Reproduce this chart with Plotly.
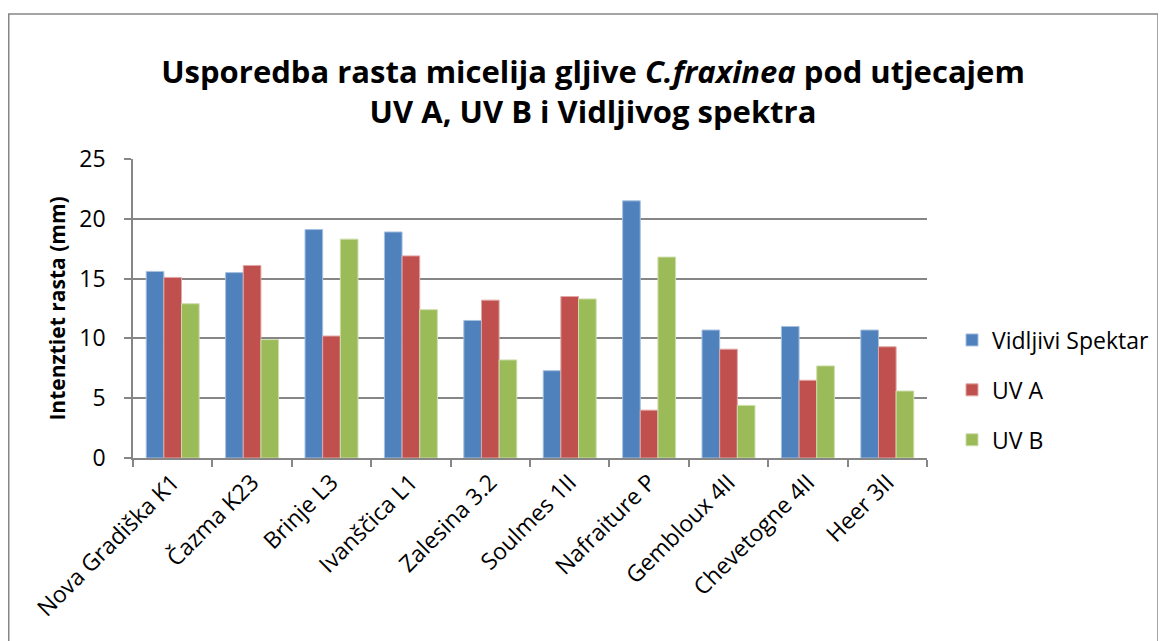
import plotly.graph_objects as go

categories = ["Nova Gradiška K1", "Čazma K23", "Brinje L3", "Ivanščica L1", "Zalesina 3.2",
              "Soulmes 1II", "Nafraiture P", "Gembloux 4II", "Chevetogne 4II", "Heer 3II"]
vidljivi = [15.6, 15.5, 19.1, 18.9, 11.5, 7.3, 21.5, 10.7, 11.0, 10.7]
uva = [15.1, 16.1, 10.2, 16.9, 13.2, 13.5, 4.0, 9.1, 6.5, 9.3]
uvb = [12.9, 9.9, 18.3, 12.4, 8.2, 13.3, 16.8, 4.4, 7.7, 5.6]

series = [("Vidljivi Spektar", vidljivi, "#4F81BD", "#A7C0DE"),
          ("UV A", uva, "#C0504D", "#E0A8A6"),
          ("UV B", uvb, "#9BBB59", "#CDDDAC")]

FONT = "Open Sans"
GRID = "#868686"

fig = go.Figure()
for i, (name, vals, col, edge) in enumerate(series):
    fig.add_trace(go.Bar(x=categories, y=vals, name=name, legendgroup=str(i),
                         marker=dict(color=col, line=dict(color=edge, width=1))))

# page has an 8px body margin, so figure coords = page coords - 8
OFF = 8
W, H = 1158, 633
L, T = 133 - OFF, 159 - OFF
R = W - (927 - OFF)
B = H - (458 - OFF)
pw, ph = W - L - R, H - T - B

def px(x):
    return (x - OFF - L) / pw

def py(y):
    return (H - B - (y - OFF)) / ph

fig.update_layout(
    width=W, height=H,
    margin=dict(l=L, r=R, t=T, b=B),
    paper_bgcolor="white", plot_bgcolor="white",
    font=dict(family=FONT, size=23, color="black"),
    barmode="group", bargap=0.333, bargroupgap=0,
    title=dict(text="<b>Usporedba rasta micelija gljive <i>C.fraxinea</i> pod utjecajem<br>UV A, UV B i Vidljivog spektra</b>",
               x=(593 - OFF) / W, xanchor="center", y=1 - (83 - OFF) / H, yanchor="middle",
               font=dict(family=FONT, size=31, color="black")),
    legend=dict(x=px(952), y=py(390), xanchor="left", yanchor="middle",
                font=dict(size=23), tracegroupgap=17, itemwidth=30),
    xaxis=dict(showline=True, linecolor=GRID, linewidth=1.5, ticks="outside",
               tickson="boundaries", ticklen=7, tickcolor=GRID, tickwidth=1.5,
               tickangle=-45, tickfont=dict(size=23)),
    yaxis=dict(range=[0, 25], dtick=5, showline=True, linecolor=GRID, linewidth=1.5,
               ticks="outside", ticklen=7, tickcolor=GRID, tickwidth=1.5,
               showgrid=True, gridcolor=GRID, gridwidth=1.5, zeroline=False,
               tickfont=dict(size=23), ticklabelstandoff=14,
               title=dict(text="<b>Intenztiet rasta (mm)</b>", font=dict(size=21), standoff=8)),
    shapes=[dict(type="rect", xref="paper", yref="paper",
                 x0=px(8.75), x1=px(1158), y0=py(700), y1=py(14),
                 line=dict(color=GRID, width=1.5), fillcolor="rgba(0,0,0,0)", layer="below")],
)

fig.write_html("out.html")
